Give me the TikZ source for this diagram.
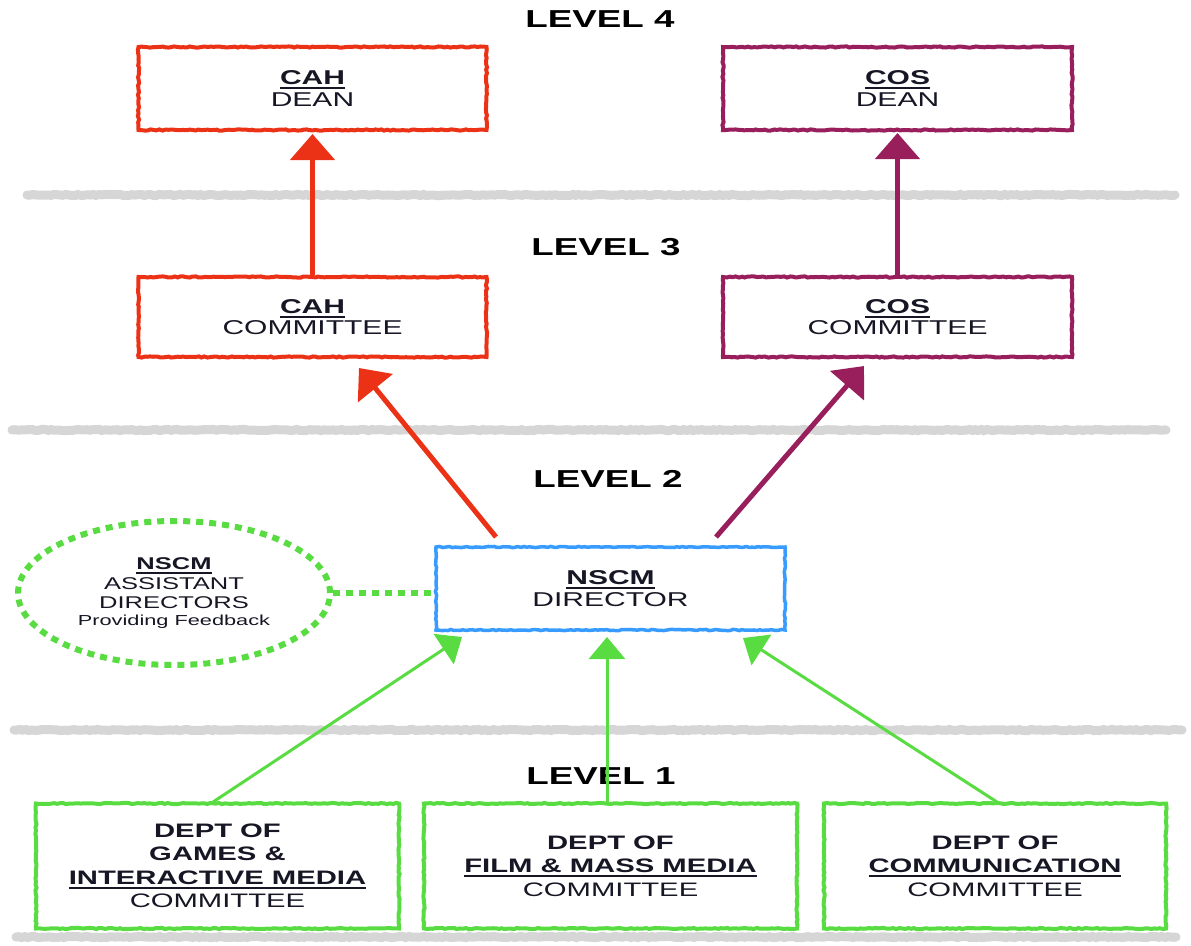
\documentclass[tikz,border=0pt]{standalone}
\usepackage{fontspec}
\setmainfont{Liberation Sans}[FakeStretch=1.5]
\usetikzlibrary{arrows.meta,shapes.geometric,decorations.pathmorphing,calc}
\definecolor{cred}{RGB}{236,50,22}
\definecolor{cpur}{RGB}{152,30,92}
\definecolor{cblue}{RGB}{55,155,255}
\definecolor{cgreen}{RGB}{88,220,66}
\definecolor{cgray}{RGB}{214,214,214}
\definecolor{ctext}{RGB}{22,22,36}
\newcommand\ulx[1]{\leavevmode\sbox0{#1}\rlap{\vrule height -2.6pt depth 4.4pt width \wd0}\usebox0}
\begin{document}
\begin{tikzpicture}[x=1pt,y=-1pt,
  rough/.style={decorate,decoration={random steps,segment length=3pt,amplitude=0.6pt}},
  box/.style={draw,rough,line width=4pt,rectangle,inner sep=0pt,align=center,text=ctext,
    font=\fontsize{20}{21.5}\selectfont},
  dbox/.style={box,draw=cgreen,line width=4pt,minimum width=#1,minimum height=125pt,
    font=\fontsize{19.5}{23.5}\selectfont},
  sep/.style={draw=cgray,line width=9pt,line cap=round,rough},
  lvl/.style={font=\fontsize{24.5}{30}\selectfont\bfseries,text=black},
  bigarrow/.style={line width=5pt,-{Triangle[width=44pt,length=26pt]}},
  grarrow/.style={draw=cgreen,line width=3pt,-{Triangle[width=36pt,length=22pt]}}]
\useasboundingbox (0,0) rectangle (1191,945);
% separators
\coordinate (s1a) at (27,195); \coordinate (s1b) at (1175,195);
\coordinate (s2a) at (12,430); \coordinate (s2b) at (1166,430);
\coordinate (s3a) at (14,730); \coordinate (s3b) at (1182,730);
\coordinate (s4a) at (16,937); \coordinate (s4b) at (1176,937);
\draw[sep] (s1a) -- (s1b);
\draw[sep] (s2a) -- (s2b);
\draw[sep] (s3a) -- (s3b);
\draw[sep] (s4a) -- (s4b);
% level titles
\node[lvl] (l4) at (600,19) {LEVEL 4};
\node[lvl] (l3) at (606,247) {LEVEL 3};
\node[lvl] (l2) at (608,479) {LEVEL 2};
\node[lvl] (l1) at (601,776) {LEVEL 1};
% boxes
\node[box,draw=cred,minimum width=348pt,minimum height=83pt] (cahdean) at (312.5,88.5)
  {\textbf{\ulx{CAH}}\\DEAN};
\node[box,draw=cpur,minimum width=349pt,minimum height=83pt] (cosdean) at (897.5,88.5)
  {\textbf{\ulx{COS}}\\DEAN};
\node[box,draw=cred,minimum width=348pt,minimum height=80pt] (cahcom) at (312.5,317)
  {\textbf{\ulx{CAH}}\\COMMITTEE};
\node[box,draw=cpur,minimum width=349pt,minimum height=80pt] (coscom) at (897.5,317)
  {\textbf{\ulx{COS}}\\COMMITTEE};
\node[box,draw=cblue,line width=3.5pt,minimum width=349pt,minimum height=83pt] (dir) at (610.5,588.5)
  {\textbf{\ulx{NSCM}}\\DIRECTOR};
\node[ellipse,draw=cgreen,line width=6pt,dash pattern=on 7pt off 6pt,minimum width=312pt,
  minimum height=144pt,inner sep=0pt,align=center,text=ctext,font=\fontsize{17}{19.5}\selectfont]
  (ell) at (174,593)
  {\textbf{\ulx{NSCM}}\\ASSISTANT\\DIRECTORS\\[-3pt]{\fontsize{14.5}{16}\selectfont Providing Feedback}};
\node[dbox=363pt] (d1) at (217.5,866)
  {\textbf{DEPT OF}\\\textbf{GAMES \&}\\\textbf{\ulx{INTERACTIVE MEDIA}}\\COMMITTEE};
\node[dbox=373pt] (d2) at (610.5,866)
  {\textbf{DEPT OF}\\\textbf{\ulx{FILM \& MASS MEDIA}}\\COMMITTEE};
\node[dbox=342pt] (d3) at (995,866)
  {\textbf{DEPT OF}\\\textbf{\ulx{COMMUNICATION}}\\COMMITTEE};
% dashed link
\draw[draw=cgreen,line width=6pt,dash pattern=on 7pt off 6pt] (ell.east) -- (ell.east -| dir.west);
% arrow end points
\coordinate (a1e) at (312.5,134);
\coordinate (a2e) at (897.5,133);
\coordinate (a3s) at (496,537);
\coordinate (a3e) at (359,368);
\coordinate (a4s) at (716,537);
\coordinate (a4e) at (864,366);
\coordinate (g1s) at (213,802);
\coordinate (g1e) at (462,637);
\coordinate (g2s) at (607,802);
\coordinate (g2e) at (607,637);
\coordinate (g3s) at (997,802);
\coordinate (g3e) at (743,638);
\draw[bigarrow,draw=cred,fill=cred] (cahcom.north) -- (a1e);
\draw[bigarrow,draw=cpur,fill=cpur] (coscom.north) -- (a2e);
\draw[bigarrow,draw=cred,fill=cred] (a3s) -- (a3e);
\draw[bigarrow,draw=cpur,fill=cpur] (a4s) -- (a4e);
\draw[grarrow] (g1s) -- (g1e);
\draw[grarrow] (g2s) -- (g2e);
\draw[grarrow] (g3s) -- (g3e);
\end{tikzpicture}
\end{document}
